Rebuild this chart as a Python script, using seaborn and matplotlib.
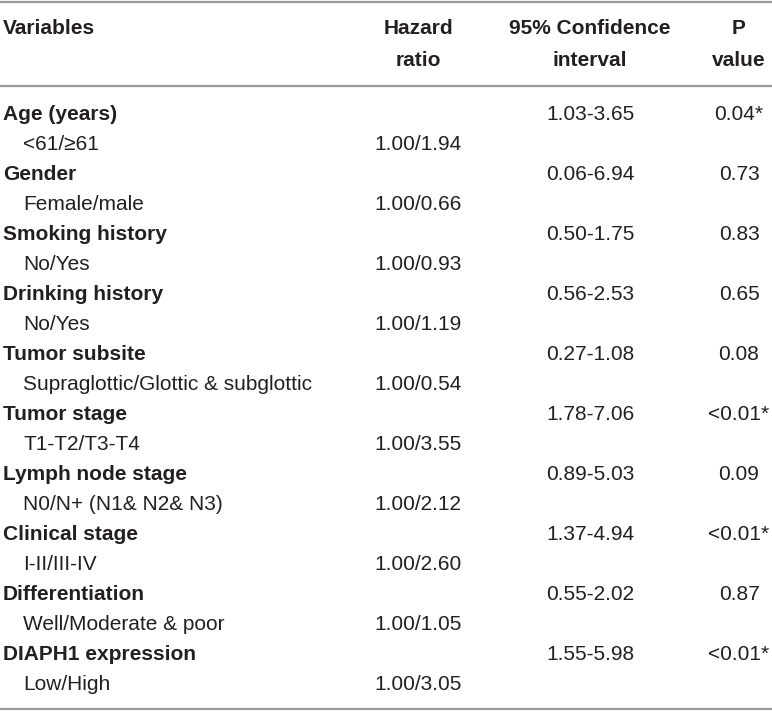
import matplotlib
matplotlib.use("Agg")
import matplotlib.pyplot as plt
import seaborn as sns

# table content
variables = ["Age (years)", "Gender", "Smoking history", "Drinking history",
             "Tumor subsite", "Tumor stage", "Lymph node stage", "Clinical stage",
             "Differentiation", "DIAPH1 expression"]
groups = ["<61/\u226561", "Female/male", "No/Yes", "No/Yes",
          "Supraglottic/Glottic & subglottic", "T1-T2/T3-T4",
          "N0/N+ (N1& N2& N3)", "I-II/III-IV", "Well/Moderate & poor", "Low/High"]
hazard = ["1.00/1.94", "1.00/0.66", "1.00/0.93", "1.00/1.19", "1.00/0.54",
          "1.00/3.55", "1.00/2.12", "1.00/2.60", "1.00/1.05", "1.00/3.05"]
ci = ["1.03-3.65", "0.06-6.94", "0.50-1.75", "0.56-2.53", "0.27-1.08",
      "1.78-7.06", "0.89-5.03", "1.37-4.94", "0.55-2.02", "1.55-5.98"]
pval = ["0.04*", "0.73", "0.83", "0.65", "0.08",
        "<0.01*", "0.09", "<0.01*", "0.87", "<0.01*"]

sns.set_theme(style="white")
plt.rcParams['font.family'] = ['Liberation Sans', 'DejaVu Sans']

W, H = 772, 711
fig = plt.figure(figsize=(W / 100, H / 100), dpi=100)
ax = fig.add_axes([0, 0, 1, 1])
ax.set_xlim(0, W)
ax.set_ylim(H, 0)
ax.axis("off")

txt = "#231f20"
fs = 15
x_var, x_sub, x_hr, x_ci, x_p = 3, 23, 418, 590, 739

# header
ax.text(x_var, 29, "Variables", fontsize=fs, fontweight="bold", color=txt, va="center")
for x, lines in [(x_hr, ["Hazard", "ratio"]),
                 (x_ci, ["95% Confidence", "interval"]),
                 (x_p, ["P", "value"])]:
    for k, s in enumerate(lines):
        ax.text(x, 29 + 31 * k, s, fontsize=fs, fontweight="bold", color=txt,
                va="center", ha="center")

# rules
for y in [2, 86, 709]:
    ax.plot([0, W], [y, y], color="#9a9a9a", lw=1.6, solid_capstyle="butt")

y0, step = 114, 30
for i in range(len(variables)):
    ya = y0 + 2 * i * step
    yb = ya + step
    ax.text(x_var, ya, variables[i], fontsize=fs, fontweight="bold", color=txt, va="center")
    ax.text(x_ci, ya, ci[i], fontsize=fs, color=txt, va="center", ha="center")
    ax.text(x_p, ya, pval[i], fontsize=fs, color=txt, va="center", ha="center")
    ax.text(x_sub, yb, groups[i], fontsize=fs, color=txt, va="center")
    ax.text(x_hr, yb, hazard[i], fontsize=fs, color=txt, va="center", ha="center")

fig.savefig("out.png", dpi=100, facecolor="white")
